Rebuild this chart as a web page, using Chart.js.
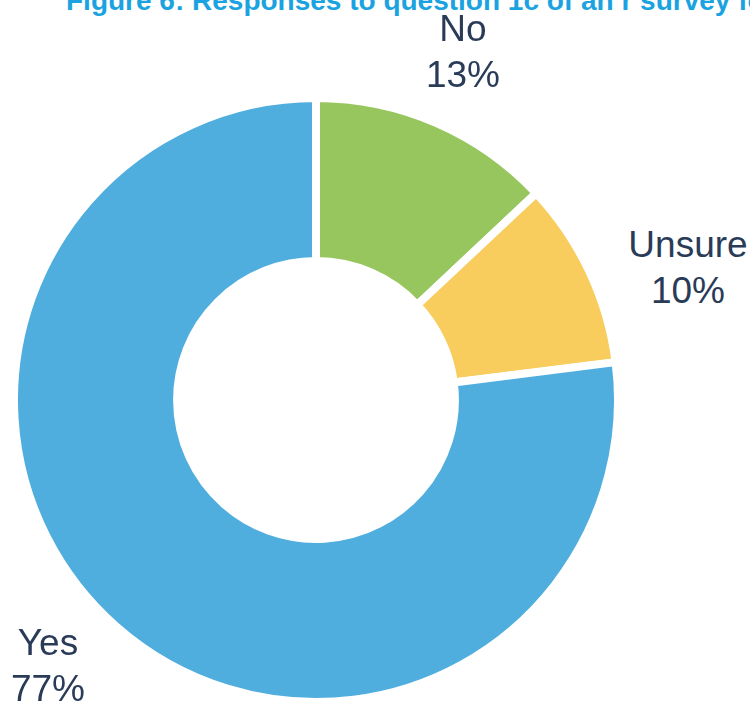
<!DOCTYPE html>
<html>
<head>
<meta charset="utf-8">
<script src="https://cdn.jsdelivr.net/npm/chart.js@4"></script>
<style>
  body { margin: 0; background: #fff; width: 750px; height: 705px; overflow: hidden; position: relative; }
  #title { position: absolute; left: 66px; top: -15px; white-space: nowrap;
    font: bold 28px "Liberation Sans", Arial, sans-serif; color: #1aa3e0; }
  #wrap { position: absolute; left: 10px; top: 94px; width: 612px; height: 612px; }
  .lbl { position: absolute; text-align: center; transform: translateX(-50%);
    font: 37px "Liberation Sans", Arial, sans-serif; color: #2a3b58; line-height: 46px; }
</style>
</head>
<body>
<div id="title">Figure 6: Responses to question 1c of an r survey for</div>
<div id="wrap"><canvas id="chart"></canvas></div>
<script>
  const categories = ["No", "Unsure", "Yes"];
  const values = [13, 10, 77];
  const colors = ["#98c65e", "#f8cd5e", "#50aede"];
  // label anchor positions (centre x, top y) in page pixels
  const labelPos = [[463, 6], [688, 222], [48, 620]];

  const canvas = document.getElementById("chart");
  new Chart(canvas.getContext("2d"), {
    type: "doughnut",
    data: {
      labels: categories,
      datasets: [{
        data: values,
        backgroundColor: colors,
        borderColor: "#ffffff",
        borderWidth: 8,
        hoverOffset: 0,
      }],
    },
    options: {
      responsive: true,
      maintainAspectRatio: false,
      animation: false,
      cutout: "46%",
      plugins: { legend: { display: false }, tooltip: { enabled: false } },
    },
  });

  categories.forEach((c, i) => {
    const d = document.createElement("div");
    d.className = "lbl";
    d.style.left = labelPos[i][0] + "px";
    d.style.top = labelPos[i][1] + "px";
    d.innerHTML = `${c}<br>${values[i]}%`;
    document.body.appendChild(d);
  });
</script>
</body>
</html>
